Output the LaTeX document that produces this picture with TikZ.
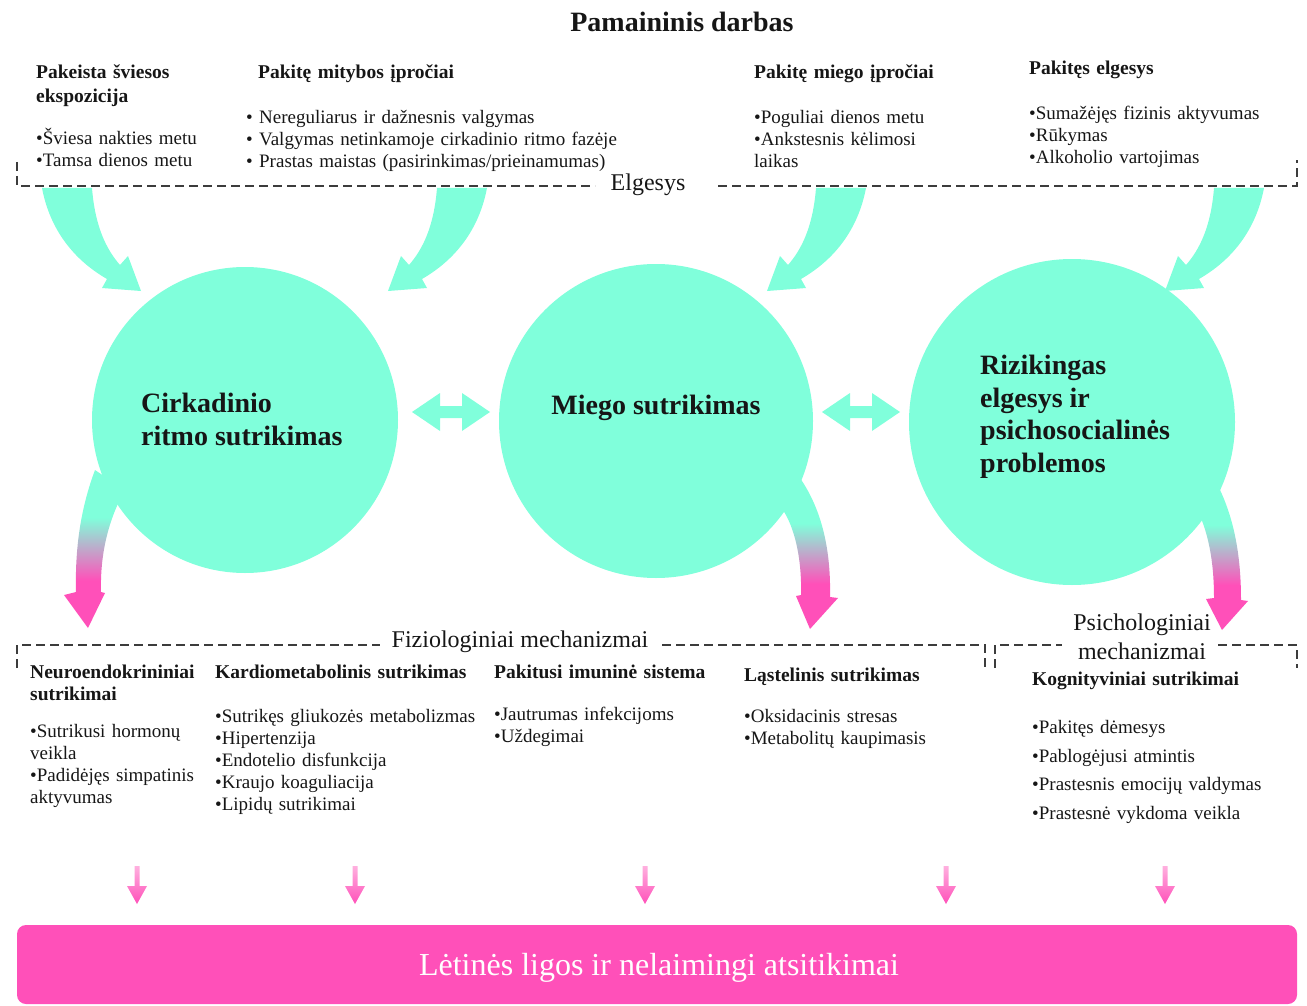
\documentclass[tikz,border=0pt]{standalone}
\usepackage{fontspec}
\setmainfont{Liberation Serif}
\usetikzlibrary{calc}
\definecolor{tl}{RGB}{128,255,219}
\definecolor{pk}{RGB}{255,80,185}
\definecolor{ink}{RGB}{22,22,22}
\definecolor{dashc}{RGB}{60,60,60}
% teal at the top, pink at the bottom
\pgfdeclareverticalshading{tealtopink}{100bp}{color(0bp)=(pk); color(40bp)=(pk); color(60bp)=(tl); color(100bp)=(tl)}

\begin{document}
\begin{tikzpicture}[x=1pt,y=-1pt,
  every node/.style={inner sep=0pt,text=ink},
  head/.style={font=\fontsize{19.5}{24}\selectfont\bfseries,anchor=base west,align=left,text width=420pt},
  item/.style={font=\fontsize{19}{22}\selectfont,anchor=base west,align=left,text width=420pt},
  section/.style={font=\fontsize{24}{29}\selectfont,align=center},
  bubble/.style={circle,fill=tl,inner sep=0pt},
  bubbletext/.style={font=\fontsize{28}{32.5}\selectfont\bfseries,align=left},
  groupline/.style={draw=dashc,line width=1.2pt,dash pattern=on 9pt off 5pt},
  feed/.style={fill=tl},
  outflow/.style={shading=tealtopink},
  drop/.style={top color=pk!45,bottom color=pk}
]
\useasboundingbox (0,0) rectangle (1307,1006);
% text-width blocks sit on the baseline of their first line,
% the bubble captions on the baseline of their last line

% ---------- title ----------
\node[font=\fontsize{28}{32}\selectfont\bfseries] (title) at (682,22) {Pamaininis darbas};

% ---------- behaviour group ----------
\node[head] (h1) at (36,79) {Pakeista šviesos\\ekspozicija};
\node[item] (i1) at (36,145) {•Šviesa nakties metu\\•Tamsa dienos metu};
\node[head] (h2) at (258,79) {Pakitę mitybos įpročiai};
\node[item] (i2) at (246,123.5) {• Nereguliarus ir dažnesnis valgymas\\• Valgymas netinkamoje cirkadinio ritmo fazėje\\• Prastas maistas (pasirinkimas/prieinamumas)};
\node[head] (h3) at (754,79) {Pakitę miego įpročiai};
\node[item] (i3) at (754,123.5) {•Poguliai dienos metu\\•Ankstesnis kėlimosi\\laikas};
\node[head] (h4) at (1029,75) {Pakitęs elgesys};
\node[item] (i4) at (1029,119.5) {•Sumažėjęs fizinis aktyvumas\\•Rūkymas\\•Alkoholio vartojimas};

\node[section] (elg) at (648,185) {Elgesys};
\coordinate (eTL) at (17,162);
\coordinate (eBL) at (17,186);
\coordinate (eA) at (595,186);
\coordinate (eB) at (718,186);
\coordinate (eBR) at (1297,186);
\coordinate (eTR) at (1297,160);
\draw[groupline] (eTL) -- (eBL) -- (eA);
\draw[groupline] (eB) -- (eBR) -- (eTR);

% ---------- feeding arrows into the bubbles ----------
\def\feedarrow{(42,188) .. controls (50,230) and (74,260) .. (107,279) -- (102,288) -- (141,291) -- (128,256) -- (120,265) .. controls (106,249) and (95,226) .. (92,188) -- cycle}
\path[feed] \feedarrow;
\begin{scope}[shift={(529,0)},xscale=-1]
  \path[feed] \feedarrow;
\end{scope}
\begin{scope}[shift={(908,0)},xscale=-1]
  \path[feed] \feedarrow;
\end{scope}
\begin{scope}[shift={(1306,0)},xscale=-1]
  \path[feed] \feedarrow;
\end{scope}

% ---------- outflow arrows (teal to pink) ----------
\path[outflow] (95,470) .. controls (80,510) and (75,550) .. (76,592) -- (64,595) -- (88,628) -- (105,593) -- (101,592) .. controls (100,555) and (108,520) .. (125,490) -- cycle;
\path[outflow] (775,500) .. controls (795,520) and (802,560) .. (801,595) -- (796,596) -- (810,629) -- (838,598) -- (830,597) .. controls (831,550) and (822,510) .. (800,478) -- cycle;
\path[outflow] (1195,505) .. controls (1208,530) and (1214,560) .. (1214,598) -- (1206,599) -- (1222,630) -- (1248,601) -- (1241,600) .. controls (1241,555) and (1234,515) .. (1215,480) -- cycle;

% ---------- bubbles ----------
\node[bubble,minimum size=306pt] (c1) at (245,420) {};
\node[bubble,minimum size=314pt] (c2) at (656,421) {};
\node[bubble,minimum size=326pt] (c3) at (1072,422) {};

\node[bubbletext,anchor=base west] (t1) at (141,445) {Cirkadinio\\ritmo sutrikimas};
\node[bubbletext,anchor=base] (t2) at (656,414) {Miego sutrikimas};
\node[bubbletext,anchor=base west] (t3) at (980,472) {Rizikingas\\elgesys ir\\psichosocialinės\\problemos};

% ---------- two-way arrows between bubbles ----------
\def\twoway{(412,412) -- (440,393) -- (440,406) -- (462,406) -- (462,393) -- (490,412) -- (462,431) -- (462,418) -- (440,418) -- (440,431) -- cycle}
\path[feed] \twoway;
\begin{scope}[shift={(410,0)}]
  \path[feed] \twoway;
\end{scope}

% ---------- mechanism groups ----------
\node[section] (fiz) at (520,642) {Fiziologiniai mechanizmai};
\coordinate (fTL) at (17,668);
\coordinate (fL) at (17,645);
\coordinate (fA) at (380,645);
\coordinate (fB) at (662,645);
\coordinate (fR) at (985,645);
\coordinate (fBR) at (985,668);
\draw[groupline] (fTL) -- (fL) -- (fA);
\draw[groupline] (fB) -- (fR) -- (fBR);

\node[section] (psi) at (1142,637) {Psichologiniai\\mechanizmai};
\coordinate (pBL) at (995,668);
\coordinate (pL) at (995,645);
\coordinate (pA) at (1062,645);
\coordinate (pB) at (1218,645);
\coordinate (pR) at (1297,645);
\coordinate (pBR) at (1297,668);
\draw[groupline] (pBL) -- (pL) -- (pA);
\draw[groupline] (pB) -- (pR) -- (pBR);

\node[head,font=\fontsize{19.5}{22}\selectfont\bfseries] (h5) at (30,678) {Neuroendokrininiai\\sutrikimai};
\node[item] (i5) at (30,737.5) {•Sutrikusi hormonų\\veikla\\•Padidėjęs simpatinis\\aktyvumas};
\node[head] (h6) at (215,678) {Kardiometabolinis sutrikimas};
\node[item] (i6) at (215,722) {•Sutrikęs gliukozės metabolizmas\\•Hipertenzija\\•Endotelio disfunkcija\\•Kraujo koaguliacija\\•Lipidų sutrikimai};
\node[head] (h7) at (494,678) {Pakitusi imuninė sistema};
\node[item] (i7) at (494,720) {•Jautrumas infekcijoms\\•Uždegimai};
\node[head] (h8) at (744,681) {Ląstelinis sutrikimas};
\node[item] (i8) at (744,722) {•Oksidacinis stresas\\•Metabolitų kaupimasis};
\node[head] (h9) at (1032,685) {Kognityviniai sutrikimai};
\node[item,font=\fontsize{19}{28.5}\selectfont] (i9) at (1032,733.5) {•Pakitęs dėmesys\\•Pablogėjusi atmintis\\•Prastesnis emocijų valdymas\\•Prastesnė vykdoma veikla};

% ---------- outcome bar ----------
\node[rounded corners=9pt,fill=pk,minimum width=1280pt,minimum height=79pt] (out) at (657,964.5) {};
\node[font=\fontsize{32}{36}\selectfont,text=white,anchor=base] (outtext) at (659,975) {Lėtinės ligos ir nelaimingi atsitikimai};

% small arrows into the bar
\foreach \x [count=\k] in {137,355,645,946,1165}{
  \coordinate (d\k) at (\x,866);
  \path[drop] ($(d\k)+(-2.5,0)$) -- ($(d\k)+(2.5,0)$) -- ($(d\k)+(2.5,20)$) -- ($(d\k)+(10,20)$)
     -- ($(d\k)+(0,38)$) -- ($(d\k)+(-10,20)$) -- ($(d\k)+(-2.5,20)$) -- cycle;
}
\end{tikzpicture}
\end{document}
